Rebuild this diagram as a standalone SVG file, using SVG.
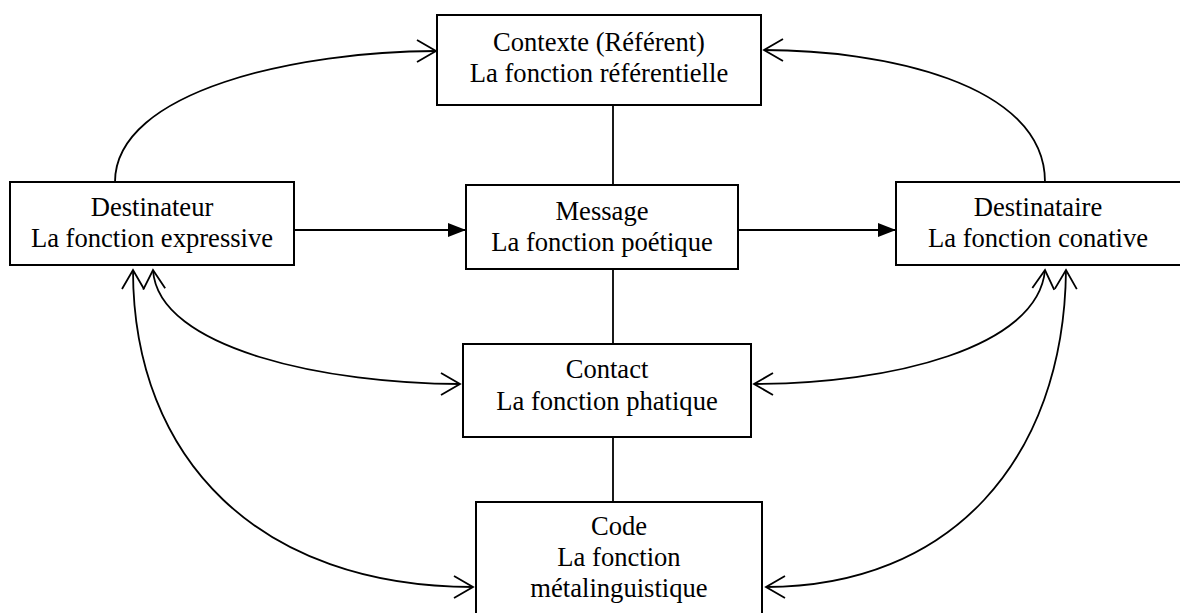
<svg xmlns="http://www.w3.org/2000/svg" width="1180" height="613" viewBox="0 0 1180 613">
  <defs>
    <style>
      .box { fill: #ffffff; stroke: #000000; stroke-width: 2; }
      .lbl { font-family: "Liberation Serif", "Times New Roman", serif; font-size: 26.6px; fill: #000000; text-anchor: middle; }
      .ln { fill: none; stroke: #000000; stroke-width: 1.8; }
      .arc { fill: none; stroke: #000000; stroke-width: 1.8; marker-end: url(#open); }
      .arc2 { fill: none; stroke: #000000; stroke-width: 1.8; marker-start: url(#open); marker-end: url(#open); }
      .flow { fill: none; stroke: #000000; stroke-width: 1.8; marker-end: url(#solid); }
    </style>
    <!-- open V arrowhead, tip at the path end -->
    <marker id="open" markerUnits="userSpaceOnUse" viewBox="0 0 24 26" refX="22" refY="13" markerWidth="24" markerHeight="26" orient="auto-start-reverse" overflow="visible">
      <path d="M3,2 L22,13 L3,24" fill="none" stroke="#000000" stroke-width="1.8"/>
    </marker>
    <!-- filled triangle arrowhead -->
    <marker id="solid" markerUnits="userSpaceOnUse" viewBox="0 0 18 14" refX="18" refY="7" markerWidth="18" markerHeight="14" orient="auto">
      <path d="M0,0 L18,7 L0,14 Z" fill="#000000"/>
    </marker>
  </defs>

  <rect width="1180" height="613" fill="#ffffff"/>

  <g id="connectors">
    <!-- vertical links down the middle column -->
    <line class="ln" x1="613" y1="105" x2="613" y2="185"/>
    <line class="ln" x1="613" y1="269" x2="613" y2="344"/>
    <line class="ln" x1="613" y1="437" x2="613" y2="502"/>
    <!-- sender -> message -> receiver -->
    <line class="flow" x1="294" y1="230" x2="466" y2="230"/>
    <line class="flow" x1="738" y1="230" x2="896" y2="230"/>
    <!-- arcs to the context -->
    <path class="arc" d="M115,182 C115,90 300,51 436,51"/>
    <path class="arc" d="M1045,182 C1045,82 880,50 764,50"/>
    <!-- two-way arcs to contact and code -->
    <path class="arc2" d="M153,270 C158,350 330,384 460,384"/>
    <path class="arc2" d="M133,270 C133,460 260,587 473,587"/>
    <path class="arc2" d="M1045,270 C1038,348 890,384 754,384"/>
    <path class="arc2" d="M1066,270 C1064,460 950,587 766,587"/>
  </g>

  <g id="contexte">
    <rect class="box" x="437" y="15" width="324" height="90"/>
    <text class="lbl" x="599" y="51">Contexte (Référent)</text>
    <text class="lbl" x="599" y="82">La fonction référentielle</text>
  </g>

  <g id="destinateur">
    <rect class="box" x="10" y="182" width="284" height="83"/>
    <text class="lbl" x="152" y="216">Destinateur</text>
    <text class="lbl" x="152" y="247">La fonction expressive</text>
  </g>

  <g id="message">
    <rect class="box" x="466" y="185" width="272" height="84"/>
    <text class="lbl" x="602" y="220">Message</text>
    <text class="lbl" x="602" y="251">La fonction poétique</text>
  </g>

  <g id="destinataire">
    <rect class="box" x="896" y="182" width="300" height="83"/>
    <text class="lbl" x="1038" y="216">Destinataire</text>
    <text class="lbl" x="1038" y="247">La fonction conative</text>
  </g>

  <g id="contact">
    <rect class="box" x="463" y="344" width="288" height="93"/>
    <text class="lbl" x="607" y="378">Contact</text>
    <text class="lbl" x="607" y="410">La fonction phatique</text>
  </g>

  <g id="code">
    <rect class="box" x="476" y="502" width="286" height="130"/>
    <text class="lbl" x="619" y="535">Code</text>
    <text class="lbl" x="619" y="566">La fonction</text>
    <text class="lbl" x="619" y="597">métalinguistique</text>
  </g>
</svg>
